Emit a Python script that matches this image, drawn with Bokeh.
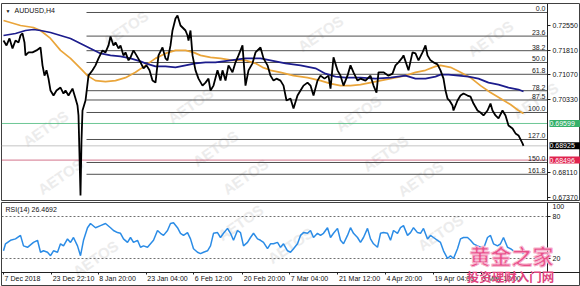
from bokeh.plotting import figure
from bokeh.layouts import column
from bokeh.models import Range1d, FixedTicker, Label, LinearAxis
from bokeh.embed import file_html
from bokeh.resources import INLINE

FONT = "Liberation Sans"

# ---------------- data (bar index ~ position in the H4 series) ----------------
price_bar = [3, 6, 9, 12, 15, 18, 20, 22, 24, 25, 28, 32, 36, 40, 42, 44, 46, 48, 50, 53, 56, 60, 63, 65, 68, 72, 75, 77, 78, 80, 81, 82, 85, 88, 92, 95, 98, 102, 105, 108, 110, 113, 115, 118, 120, 123, 125, 128, 130, 133, 136, 140, 143, 146, 149, 152, 155, 158, 162, 165, 167, 170, 172, 175, 177, 180, 183, 185, 187, 188, 190, 192, 195, 198, 202, 205, 208, 210, 213, 217, 220, 222, 225, 228, 232, 235, 238, 242, 245, 248, 252, 255, 260, 263, 267, 270, 273, 276, 280, 283, 286, 290, 293, 297, 300, 303, 307, 310, 313, 317, 320, 324, 328, 330, 333, 337, 340, 343, 347, 350, 353, 357, 360, 365, 370, 373, 376, 378, 383, 388, 392, 395, 398, 402, 403, 408, 412, 415, 418, 422, 425, 427, 430, 433, 437, 440, 443, 445, 447, 449, 452, 453, 457, 460, 463, 467, 470, 473, 477, 480, 483, 487, 490, 492, 495, 498, 502, 505, 508, 512, 515, 518, 522, 523]
price_close = [0.7210, 0.7195, 0.7216, 0.7186, 0.7210, 0.7204, 0.7225, 0.7231, 0.7204, 0.7165, 0.7174, 0.7174, 0.7180, 0.7189, 0.7135, 0.7104, 0.7120, 0.7095, 0.7059, 0.7044, 0.7059, 0.7068, 0.7050, 0.7059, 0.7044, 0.7065, 0.7035, 0.7014, 0.6984, 0.6743, 0.6909, 0.6999, 0.7029, 0.7104, 0.7120, 0.7135, 0.7156, 0.7180, 0.7174, 0.7195, 0.7222, 0.7195, 0.7204, 0.7186, 0.7195, 0.7165, 0.7174, 0.7150, 0.7159, 0.7180, 0.7165, 0.7144, 0.7126, 0.7135, 0.7120, 0.7089, 0.7083, 0.7165, 0.7189, 0.7156, 0.7150, 0.7195, 0.7240, 0.7276, 0.7285, 0.7255, 0.7246, 0.7240, 0.7225, 0.7210, 0.7240, 0.7165, 0.7120, 0.7095, 0.7074, 0.7083, 0.7095, 0.7059, 0.7074, 0.7120, 0.7089, 0.7120, 0.7089, 0.7135, 0.7114, 0.7144, 0.7165, 0.7195, 0.7074, 0.7120, 0.7141, 0.7174, 0.7189, 0.7156, 0.7135, 0.7104, 0.7089, 0.7095, 0.7089, 0.7074, 0.7029, 0.7035, 0.7005, 0.7044, 0.7059, 0.7074, 0.7083, 0.7074, 0.7044, 0.7089, 0.7104, 0.7095, 0.7104, 0.7065, 0.7159, 0.7120, 0.7104, 0.7074, 0.7104, 0.7135, 0.7114, 0.7089, 0.7095, 0.7089, 0.7104, 0.7074, 0.7053, 0.7114, 0.7114, 0.7104, 0.7110, 0.7135, 0.7144, 0.7159, 0.7165, 0.7120, 0.7174, 0.7171, 0.7150, 0.7174, 0.7195, 0.7165, 0.7150, 0.7144, 0.7138, 0.7120, 0.7095, 0.7059, 0.7035, 0.7029, 0.7014, 0.6999, 0.7029, 0.7044, 0.7050, 0.7044, 0.7041, 0.7020, 0.6999, 0.6993, 0.6984, 0.6999, 0.7020, 0.6999, 0.6984, 0.6975, 0.6999, 0.6984, 0.6954, 0.6945, 0.6930, 0.6924, 0.6900, 0.68925]

ma_fast_bar = [3, 20, 33, 40, 50, 60, 70, 80, 87, 95, 105, 115, 125, 135, 145, 155, 165, 175, 185, 193, 200, 210, 220, 232, 245, 255, 262, 270, 280, 293, 307, 320, 330, 340, 350, 360, 370, 380, 390, 400, 405, 415, 425, 435, 440, 450, 460, 470, 480, 490, 500, 510, 518, 523]
ma_fast = [0.7270, 0.7255, 0.7249, 0.7240, 0.7216, 0.7180, 0.7156, 0.7126, 0.7104, 0.7089, 0.7086, 0.7089, 0.7098, 0.7114, 0.7135, 0.7156, 0.7171, 0.7180, 0.7180, 0.7174, 0.7165, 0.7159, 0.7156, 0.7150, 0.7150, 0.7141, 0.7129, 0.7120, 0.7114, 0.7104, 0.7098, 0.7089, 0.7080, 0.7074, 0.7074, 0.7077, 0.7083, 0.7089, 0.7095, 0.7101, 0.7104, 0.7114, 0.7120, 0.7132, 0.7135, 0.7129, 0.7114, 0.7098, 0.7074, 0.7053, 0.7035, 0.7017, 0.6999, 0.6990]

ma_slow_bar = [3, 15, 25, 33, 40, 50, 60, 70, 80, 90, 100, 110, 120, 130, 140, 145, 155, 165, 175, 185, 195, 205, 215, 230, 245, 260, 270, 285, 300, 315, 325, 335, 345, 360, 375, 390, 405, 415, 425, 435, 440, 448, 458, 468, 478, 488, 498, 508, 518, 523]
ma_slow = [0.7225, 0.7231, 0.7240, 0.7243, 0.7240, 0.7234, 0.7225, 0.7216, 0.7201, 0.7186, 0.7171, 0.7165, 0.7162, 0.7156, 0.7147, 0.7141, 0.7132, 0.7132, 0.7129, 0.7135, 0.7141, 0.7144, 0.7144, 0.7150, 0.7156, 0.7156, 0.7150, 0.7141, 0.7135, 0.7126, 0.7110, 0.7101, 0.7098, 0.7098, 0.7095, 0.7098, 0.7104, 0.7095, 0.7095, 0.7101, 0.7107, 0.7107, 0.7104, 0.7101, 0.7095, 0.7083, 0.7077, 0.7068, 0.7062, 0.7056]

rsi_bar = [3, 5, 10, 15, 20, 23, 27, 33, 37, 40, 43, 47, 50, 53, 57, 60, 63, 67, 70, 73, 77, 80, 83, 87, 90, 95, 100, 105, 110, 113, 117, 120, 123, 127, 130, 133, 137, 140, 143, 147, 150, 153, 157, 160, 163, 167, 170, 173, 177, 180, 183, 187, 190, 193, 197, 200, 203, 207, 210, 213, 217, 220, 223, 227, 230, 233, 237, 240, 243, 247, 250, 253, 257, 260, 263, 267, 270, 273, 277, 280, 283, 287, 290, 293, 297, 300, 303, 307, 310, 313, 317, 320, 323, 327, 330, 333, 337, 340, 343, 347, 350, 353, 357, 360, 363, 367, 370, 373, 377, 380, 383, 387, 390, 393, 397, 400, 403, 407, 410, 413, 417, 420, 423, 427, 430, 433, 437, 440, 443, 447, 450, 453, 457, 460, 463, 467, 470, 473, 477, 480, 483, 487, 490, 493, 497, 500, 503, 507, 510, 513, 517, 520, 523]
rsi = [31, 41, 46, 48, 53, 38, 36, 43, 46, 29, 31, 29, 24, 31, 29, 41, 38, 48, 43, 50, 38, 24, 46, 64, 70, 64, 67, 70, 64, 60, 57, 56, 48, 43, 50, 43, 46, 36, 38, 36, 41, 46, 60, 56, 53, 60, 70, 71, 64, 56, 53, 57, 48, 34, 29, 27, 29, 31, 38, 56, 57, 50, 56, 63, 56, 46, 60, 57, 38, 43, 50, 56, 48, 46, 43, 34, 41, 41, 43, 36, 41, 31, 29, 34, 41, 53, 57, 56, 60, 50, 56, 53, 56, 64, 50, 56, 63, 46, 41, 53, 64, 56, 50, 43, 50, 63, 48, 41, 36, 56, 57, 56, 46, 60, 56, 64, 67, 53, 57, 64, 57, 56, 63, 48, 53, 50, 46, 43, 31, 20, 24, 20, 34, 48, 50, 50, 46, 41, 38, 36, 34, 50, 53, 41, 38, 41, 50, 36, 34, 31, 29, 31, 26.4692]

date_ticks = [3, 51, 98, 146, 193, 242, 289, 337, 385, 433, 481]
date_labels = ["7 Dec 2018", "23 Dec 22:10", "8 Jan 20:00", "23 Jan 04:00", "6 Feb 12:00",
               "20 Feb 20:00", "7 Mar 04:00", "21 Mar 12:00", "4 Apr 20:00", "19 Apr 04:00", "3 May 12:00"]

price_ticks = [0.7255, 0.7181, 0.7107, 0.7033, 0.6811, 0.6737]
price_tick_labels = ["0.72550", "0.71810", "0.71070", "0.70330", "0.68110", "0.67370"]

fib_levels = [0.0, 23.6, 38.2, 50.0, 61.8, 78.2, 87.5, 100.0, 127.0, 150.0, 161.8]
fib_high = 0.72942
fib_low = 0.69930
fib_start_bar = 86

level_green = 0.69599
level_bid = 0.68925
level_red = 0.68496

rsi_levels = [80, 20]

# ---------------- helpers ----------------
AXIS_BAR = 547  # bar position where the price scale starts
FS = "7px"
CHAR_W = {' ': .278, ':': .278, '.': .278, 'D': .722, 'e': .556, 'c': .5, 'J': .5, 'a': .556, 'n': .556,
          'F': .611, 'b': .556, 'M': .833, 'r': .333, 'A': .667, 'p': .556, 'y': .5}


def text_w(s, size=7.0):
    return sum(CHAR_W.get(ch, .556) for ch in s) * size


def style_axis(ax):
    ax.major_label_text_font = FONT
    ax.major_label_text_font_size = FS
    ax.major_label_text_color = "#111111"
    ax.major_tick_in = 0
    ax.minor_tick_out = 0
    ax.minor_tick_in = 0
    ax.axis_line_color = "#202020"
    ax.major_tick_line_color = "#202020"


def watermark(fig, pts, bottom):
    for (px, py) in pts:
        fig.add_layout(Label(x=px - 1, y=bottom - py, x_units="screen", y_units="screen", text="AETOS",
                             text_font=FONT, text_font_size="15px", text_font_style="bold",
                             text_color="#ececec", angle=0.6, text_align="center",
                             text_baseline="middle", level="underlay"))


# ---------------- main price panel ----------------
xr = Range1d(1, 580)
p = figure(width=580, height=201, x_range=xr, y_range=Range1d(0.67279, 0.73213),
           toolbar_location=None, output_backend="svg", x_axis_location=None,
           y_axis_location=None, min_border_left=1, min_border_right=0,
           min_border_top=3, min_border_bottom=1)
p.grid.visible = False
p.outline_line_color = "#404040"
p.background_fill_color = "white"
p.border_fill_color = "white"

ya = LinearAxis(fixed_location=AXIS_BAR, ticker=FixedTicker(ticks=price_ticks),
                major_label_overrides={t: l for t, l in zip(price_ticks, price_tick_labels)},
                major_tick_out=3, major_label_standoff=2)
style_axis(ya)
p.add_layout(ya, "right")

watermark(p, [(45, 128), (60, 176), (125, 28), (190, 105), (215, 148), (245, 176),
              (320, 33), (358, 113), (385, 153), (490, 38), (420, 178), (535, 100)], 200)

for lvl, col, a in [(level_green, "#3cb371", 0.75), (level_bid, "#c4c4c4", 1.0), (level_red, "#c0385a", 0.7)]:
    p.segment(x0=[xr.start], y0=[lvl], x1=[AXIS_BAR], y1=[lvl], line_color=col, line_width=1, line_alpha=a)

fib_prices = [fib_high - lv / 100.0 * (fib_high - fib_low) for lv in fib_levels]
p.segment(x0=[fib_start_bar] * len(fib_prices), y0=fib_prices, x1=[AXIS_BAR] * len(fib_prices),
          y1=fib_prices, line_color="#505050", line_width=1)
for lv, fp in zip(fib_levels, fib_prices):
    p.add_layout(Label(x=AXIS_BAR, y=fp, x_offset=-2, y_offset=1, text=f"{lv:.1f}",
                       text_font=FONT, text_font_size=FS, text_color="#222222",
                       text_align="right", text_baseline="bottom"))

p.line(ma_fast_bar, ma_fast, line_color="#eaa53a", line_width=1.7)
p.line(ma_slow_bar, ma_slow, line_color="#1c1c8c", line_width=1.7)
p.line(price_bar, price_close, line_color="black", line_width=1.8)

p.add_layout(Label(x=5, y=p.y_range.end, y_offset=-4, text="\u25BC", text_font=FONT,
                   text_font_size="5px", text_color="#111111", text_baseline="top"))
p.add_layout(Label(x=14, y=p.y_range.end, y_offset=-3, text="AUDUSD,H4", text_font=FONT,
                   text_font_size=FS, text_color="#111111", text_baseline="top"))

for lvl, bg in [(level_green, "#35b06a"), (level_bid, "#000000"), (level_red, "#e0234f")]:
    p.add_layout(Label(x=AXIS_BAR, y=lvl, x_offset=2, text=f" {lvl:.5f}  ", text_font=FONT,
                       text_font_size=FS, text_color="white", background_fill_color=bg,
                       text_align="left", text_baseline="middle"))

# ---------------- RSI panel ----------------
r = figure(width=580, height=85, x_range=xr, y_range=Range1d(-20, 100),
           toolbar_location=None, output_backend="svg", x_axis_location=None,
           y_axis_location=None, min_border_left=1, min_border_right=0,
           min_border_top=1, min_border_bottom=0)
r.grid.visible = False
r.outline_line_color = "#404040"
r.background_fill_color = "white"
r.border_fill_color = "white"

watermark(r, [(95, 258), (240, 222), (290, 245), (440, 232)], 286)

r.segment(x0=[xr.start] * 2, y0=rsi_levels, x1=[AXIS_BAR] * 2, y1=rsi_levels,
          line_color="#707070", line_width=1, line_dash="2 2")
r.line(rsi_bar, rsi, line_color="#2b8ce6", line_width=1.5)

ry = LinearAxis(fixed_location=AXIS_BAR, ticker=FixedTicker(ticks=rsi_levels),
                major_tick_out=3, major_label_standoff=2, bounds=(0, 100))
style_axis(ry)
r.add_layout(ry, "right")

r.add_layout(Label(x=AXIS_BAR, y=100, x_offset=5, y_offset=-1, text="100", text_font=FONT,
                   text_font_size=FS, text_color="#111111", text_baseline="top"))
r.add_layout(Label(x=5, y=100, y_offset=-3, text="RSI(14) 26.4692", text_font=FONT,
                   text_font_size=FS, text_color="#111111", text_baseline="top"))

# time scale: tick marks at the bar, label text starting at the tick
xt = LinearAxis(fixed_location=0, ticker=FixedTicker(ticks=date_ticks),
                major_label_overrides={t: "" for t in date_ticks}, major_tick_out=2)
style_axis(xt)
r.add_layout(xt, "below")
label_pos = [int(round(t + 1 + text_w(l) / 2.0)) for t, l in zip(date_ticks, date_labels)]
xl = LinearAxis(fixed_location=0, ticker=FixedTicker(ticks=label_pos),
                major_label_overrides={t: l for t, l in zip(label_pos, date_labels)},
                major_tick_out=0, major_label_standoff=2)
style_axis(xl)
xl.axis_line_color = None
r.add_layout(xl, "below")

# Chinese watermark
r.add_layout(Label(x=511 - 1, y=286 - 254, x_units="screen", y_units="screen", text="黄金之家",
                   text_font="Noto Sans CJK SC", text_font_size="21px", text_font_style="bold",
                   text_color="#e8508a", text_align="center", text_baseline="middle",
                   text_outline_color="#f7b6cf"))
r.add_layout(Label(x=510 - 1, y=286 - 276, x_units="screen", y_units="screen", text="投资理财入门网",
                   text_font="Noto Sans CJK SC", text_font_size="12.5px", text_font_style="bold",
                   text_color="#e0457e", text_align="center", text_baseline="middle"))

layout = column(p, r, spacing=0)
open("out.html", "w").write(file_html(layout, INLINE))
